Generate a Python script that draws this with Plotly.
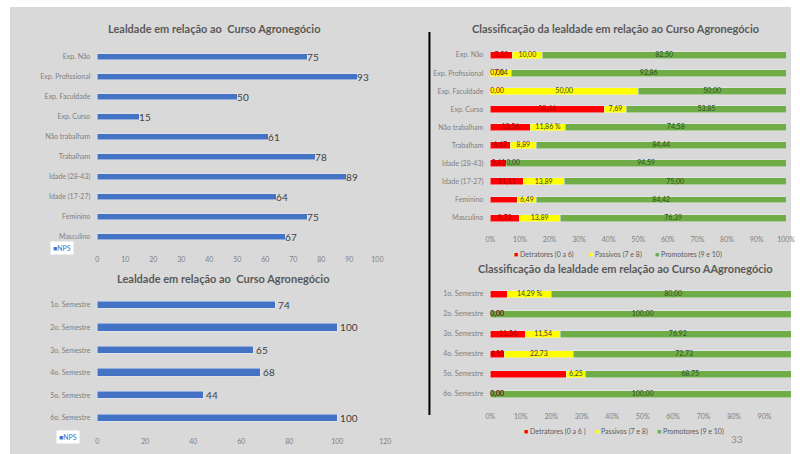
import plotly.graph_objects as go

W, H = 800, 454

# ---------------- data ----------------
cats_profile = ["Exp. Não", "Exp. Profissional", "Exp. Faculdade", "Exp. Curso",
                "Não trabalham", "Trabalham", "Idade (28-43)", "Idade (17-27)",
                "Feminino", "Masculino"]
nps_profile = [75, 93, 50, 15, 61, 78, 89, 64, 75, 67]

cats_sem = ["1o. Semestre", "2o. Semestre", "3o. Semestre",
            "4o. Semestre", "5o. Semestre", "6o. Semestre"]
nps_sem = [74, 100, 65, 68, 44, 100]

det_profile = [7.50, 0.00, 0.00, 38.46, 13.56, 6.67, 5.41, 11.11, 9.09, 9.72]
pas_profile = [10.00, 7.14, 50.00, 7.69, 11.86, 8.89, 0.00, 13.89, 6.49, 13.89]
pro_profile = [82.50, 92.86, 50.00, 53.85, 74.58, 84.44, 94.59, 75.00, 84.42, 76.39]

det_sem = [5.71, 0.00, 11.54, 4.55, 25.00, 0.00]
pas_sem = [14.29, 0.00, 11.54, 22.73, 6.25, 0.00]
pro_sem = [80.00, 100.00, 76.92, 72.73, 68.75, 100.00]

# labels that are not visible in the original / carry a "%" suffix
det_profile_hidden = {8}
pas_profile_pct = {4}
det_sem_hidden = {0, 4}
pas_sem_pct = {0}

NPS_COLOR = "#4472c4"
RED, YELLOW, GREEN = "#ff0000", "#ffff00", "#70ad47"
GREY_TXT = "#595959"
FONT = "Lato"


def fmt(v):
    return f"{v:.2f}".replace(".", ",")


def labels(vals, hidden=(), pct=()):
    out = []
    for i, v in enumerate(vals):
        if i in hidden:
            out.append("")
        elif i in pct:
            out.append(fmt(v) + " %")
        else:
            out.append(fmt(v))
    return out


def fx(p):
    return p / W


def fy(p):
    return 1 - p / H


fig = go.Figure()

# ---------- left top: NPS by profile ----------
fig.add_trace(go.Bar(
    y=cats_profile, x=nps_profile, orientation="h", marker_color=NPS_COLOR,
    width=0.34, text=nps_profile, textposition="outside", cliponaxis=False,
    constraintext="none",
    textfont=dict(size=10, color="#404040", family=FONT),
    xaxis="x", yaxis="y", showlegend=False, name="NPS"))

# ---------- left bottom: NPS by semester ----------
fig.add_trace(go.Bar(
    y=cats_sem, x=nps_sem, orientation="h", marker_color=NPS_COLOR,
    width=0.33, text=nps_sem, textposition="outside", cliponaxis=False,
    constraintext="none",
    textfont=dict(size=10, color="#404040", family=FONT),
    xaxis="x2", yaxis="y2", showlegend=False, name="NPS"))

seg_cfg = [
    ("Detratores (0 a 6)", RED, "#a00000"),
    ("Passivos (7 e 8)", YELLOW, "#404040"),
    ("Promotores (9 e 10)", GREEN, "#2f4f1f"),
]


def stacked(cats, series, texts, width, xa, ya):
    base = [0.0] * len(cats)
    for (name, col, tcol), vals, txt in zip(seg_cfg, series, texts):
        fig.add_trace(go.Bar(
            y=cats, x=vals, orientation="h", marker_color=col, width=width,
            xaxis=xa, yaxis=ya, showlegend=False, name=name))
        mids = [b + v / 2 for b, v in zip(base, vals)]
        pos = ["middle right" if v == 0 else "middle center" for v in vals]
        fig.add_trace(go.Scatter(
            y=cats, x=mids, mode="text", text=txt, textposition=pos,
            textfont=dict(size=7, color=tcol, family=FONT), cliponaxis=False,
            xaxis=xa, yaxis=ya, showlegend=False, hoverinfo="skip"))
        base = [b + v for b, v in zip(base, vals)]


stacked(cats_profile, [det_profile, pas_profile, pro_profile],
        [labels(det_profile, det_profile_hidden),
         labels(pas_profile, pct=pas_profile_pct),
         labels(pro_profile)], 0.38, "x3", "y3")

stacked(cats_sem, [det_sem, pas_sem, pro_sem],
        [labels(det_sem, det_sem_hidden),
         labels(pas_sem, pct=pas_sem_pct),
         labels(pro_sem)], 0.35, "x4", "y4")

tickfont = dict(size=7, color="#7f7f7f", family=FONT)
catfont = dict(size=7, color="#7f7f7f", family=FONT)


def xax(dom, rng, dtick, suffix=""):
    return dict(domain=[fx(dom[0]), fx(dom[1])], range=rng, dtick=dtick,
                showgrid=False, zeroline=False, showline=False, ticks="",
                tickfont=tickfont, ticksuffix=suffix, ticklabelstandoff=7,
                fixedrange=True)


def yax(dom, cats, anchor):
    n = len(cats)
    return dict(domain=[fy(dom[1]), fy(dom[0])], type="category",
                categoryorder="array", categoryarray=cats,
                range=[n - 0.5, -0.5], showgrid=False, zeroline=False,
                showline=False, ticks="", tickfont=catfont, anchor=anchor,
                ticklabelstandoff=6, fixedrange=True)


fig.update_layout(
    width=W, height=H, margin=dict(l=0, r=0, t=0, b=0),
    paper_bgcolor="white", plot_bgcolor="rgba(0,0,0,0)",
    barmode="stack", bargap=0,
    font=dict(family=FONT, color=GREY_TXT),
    xaxis=dict(**xax((94, 379), [0, 100], 10), anchor="y"),
    yaxis=yax((47, 247), cats_profile, "x"),
    xaxis2=dict(**xax((94, 387), [0, 120], 20), anchor="y2"),
    yaxis2=yax((293.7, 429.3), cats_sem, "x2"),
    xaxis3=dict(**xax((494, 795), [0, 100], 10, "%"), anchor="y3"),
    yaxis3=yax((45.9, 227.1), cats_profile, "x3"),
    xaxis4=dict(**xax((494, 800), [0, 306 / 3.10], 10, "%"), anchor="y4"),
    yaxis4=yax((284, 404), cats_sem, "x4"),
)

# background panel and divider
fig.add_shape(type="rect", xref="paper", yref="paper", x0=fx(5), x1=1,
              y0=0, y1=fy(7), fillcolor="#d9d9d9", line_width=0, layer="below")
fig.add_shape(type="line", xref="paper", yref="paper", x0=fx(432), x1=fx(432),
              y0=fy(32), y1=fy(415), line=dict(color="black", width=2))

# titles
titles = [
    ("Lealdade em relação ao  Curso Agronegócio", 213, 28),
    ("Lealdade em relação ao  Curso Agronegócio", 222, 278),
    ("Classificação da lealdade em relação ao Curso Agronegócio", 621, 29),
    ("Classificação da lealdade em relação ao Curso AAgronegócio", 632, 268),
]
for t, x, y in titles:
    fig.add_annotation(text=f"<b>{t}</b>", xref="paper", yref="paper",
                       x=fx(x), y=fy(y), showarrow=False, xanchor="center",
                       yanchor="middle", font=dict(size=11, color=GREY_TXT, family=FONT))

# NPS legend boxes
for x, y in [(58, 248), (64, 437)]:
    fig.add_annotation(text=f"<span style='color:{NPS_COLOR}'>■</span>NPS",
                       xref="paper", yref="paper", x=fx(x), y=fy(y),
                       xanchor="center", yanchor="middle",
                       showarrow=False, bgcolor="white", borderpad=2,
                       font=dict(size=7, color=NPS_COLOR, family=FONT))

# classification legends
leg_sets = [
    (254, ["Detratores (0 a 6)", "Passivos (7 e 8)", "Promotores (9 e 10)"], [516, 592, 660]),
    (431, ["Detratores (0 a 6 )", "Passivos (7 e 8)", "Promotores (9 e 10)"], [526, 598, 662]),
]
for y, names, xs in leg_sets:
    for (nm, col), x in zip(zip(names, [RED, YELLOW, GREEN]), xs):
        fig.add_annotation(text=f"<span style='color:{col}'>■</span> {nm}",
                           xref="paper", yref="paper", x=fx(x), y=fy(y),
                           xanchor="left", yanchor="middle", showarrow=False,
                           font=dict(size=7, color=GREY_TXT, family=FONT))

fig.add_annotation(text="33", xref="paper", yref="paper", x=fx(745), y=fy(439),
                   xanchor="center", yanchor="middle",
                   showarrow=False, font=dict(size=10, color="#8c8c8c", family=FONT))

fig.write_html("out.html", config={"displayModeBar": False},
               post_script="document.body.style.margin='0';document.body.style.overflow='hidden';")
